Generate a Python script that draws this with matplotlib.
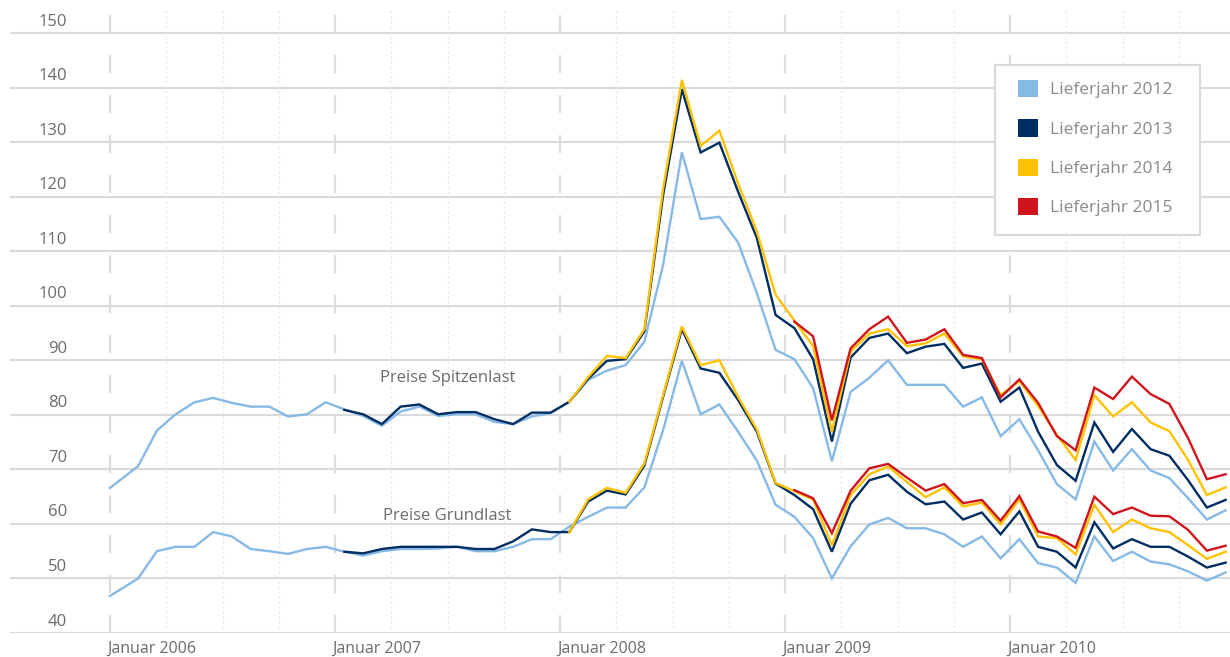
import numpy as np
import matplotlib
matplotlib.use("Agg")
import matplotlib.pyplot as plt
from matplotlib import font_manager
from matplotlib.patches import Patch, Rectangle
from matplotlib.transforms import blended_transform_factory

names = {f.name for f in font_manager.fontManager.ttflist}
NARROW = "Liberation Sans Narrow" if "Liberation Sans Narrow" in names else "Open Sans"
WIDE = "Open Sans"

# ---------------- data ----------------
# month positions (months after Jan 2006); first value at start of Jan 2006, then mid-month
months = [0.0] + [k + 0.5 for k in range(1, 60)]

year_ticks = [0, 12, 24, 36, 48]
year_labels = ["Januar 2006", "Januar 2007", "Januar 2008", "Januar 2009", "Januar 2010"]
y_ticks = [40, 50, 60, 70, 80, 90, 100, 110, 120, 130, 140, 150]

series_names = ["Lieferjahr 2012", "Lieferjahr 2013", "Lieferjahr 2014", "Lieferjahr 2015"]
series_start = [0, 12, 24, 36]  # index of first month for each delivery year

peak_2012 = [66.6, 70.6, 77.1, 80.1, 82.3, 83.1, 82.2, 81.5, 81.5, 79.7, 80.1, 82.3,
             81.0, 79.8, 78.0, 80.6, 81.5, 79.8, 80.1, 80.1, 78.7, 78.3, 79.7, 80.3,
             82.4, 86.4, 88.1, 89.1, 93.4, 107.5, 128.1, 115.9, 116.3, 111.6, 102.3, 91.9,
             90.2, 84.9, 71.5, 84.2, 86.8, 90.0, 85.5, 85.5, 85.5, 81.5, 83.2, 76.1,
             79.2, 73.5, 67.3, 64.5, 75.1, 69.8, 73.7, 69.8, 68.4, 64.7, 60.8, 62.5]
peak_2013 = [80.9, 80.1, 78.3, 81.5, 81.9, 80.1, 80.5, 80.5, 79.2, 78.3, 80.4, 80.4,
             82.4, 86.6, 89.9, 90.2, 95.3, 120.3, 139.7, 128.1, 129.9, 120.9, 112.4, 98.3,
             95.9, 90.2, 75.1, 90.5, 94.1, 94.9, 91.3, 92.5, 93.0, 88.6, 89.4, 82.4,
             85.0, 76.9, 70.8, 67.9, 78.6, 73.2, 77.4, 73.7, 72.5, 68.0, 63.0, 64.4]
peak_2014 = [82.4, 86.9, 90.8, 90.4, 95.7, 121.5, 141.4, 129.3, 132.1, 122.4, 113.6, 102.0,
             97.3, 92.6, 76.9, 91.6, 94.9, 95.7, 92.6, 93.1, 94.9, 90.7, 90.2, 83.6,
             86.2, 81.6, 76.3, 71.7, 83.6, 79.7, 82.3, 78.6, 77.0, 71.7, 65.3, 66.7]
peak_2015 = [97.1, 94.4, 79.0, 92.2, 95.7, 98.0, 93.2, 93.8, 95.7, 91.0, 90.4, 83.2,
             86.5, 82.2, 76.1, 73.5, 85.0, 82.9, 87.0, 83.8, 82.0, 75.7, 68.2, 69.1]

base_2012 = [46.8, 50.0, 55.0, 55.8, 55.8, 58.5, 57.7, 55.4, 55.0, 54.5, 55.4, 55.8,
             54.9, 54.2, 55.0, 55.4, 55.4, 55.5, 55.8, 55.0, 55.0, 55.8, 57.2, 57.2,
             59.5, 61.3, 63.0, 63.0, 66.7, 77.2, 89.9, 80.1, 81.9, 76.9, 71.6, 63.5,
             61.3, 57.4, 50.0, 55.9, 59.9, 61.1, 59.2, 59.2, 58.1, 55.8, 57.7, 53.7,
             57.2, 52.8, 52.0, 49.2, 57.7, 53.2, 54.9, 53.1, 52.6, 51.3, 49.6, 51.1]
base_2013 = [54.9, 54.6, 55.4, 55.8, 55.8, 55.8, 55.8, 55.4, 55.4, 56.8, 59.0, 58.5,
             58.5, 64.1, 66.1, 65.4, 70.7, 83.3, 95.7, 88.5, 87.7, 82.7, 76.9, 67.4,
             65.3, 62.7, 54.9, 63.7, 68.0, 69.0, 65.9, 63.6, 64.1, 60.8, 62.1, 58.1,
             62.3, 55.8, 54.9, 52.0, 60.3, 55.5, 57.2, 55.8, 55.8, 54.0, 52.0, 52.9]
base_2014 = [58.5, 64.5, 66.6, 65.7, 71.1, 83.6, 96.2, 89.1, 90.0, 83.3, 77.3, 67.5,
             66.0, 64.5, 56.1, 65.3, 69.1, 70.5, 67.7, 64.9, 66.7, 63.2, 63.9, 59.9,
             64.5, 57.7, 57.4, 54.4, 63.5, 58.5, 60.8, 59.2, 58.5, 56.1, 53.6, 54.9]
base_2015 = [66.2, 64.7, 58.3, 66.1, 70.2, 71.0, 68.5, 66.1, 67.3, 63.8, 64.4, 60.6,
             65.1, 58.6, 57.7, 55.6, 65.0, 61.8, 63.0, 61.5, 61.4, 58.9, 55.1, 56.0]

peak_series = [peak_2012, peak_2013, peak_2014, peak_2015]
base_series = [base_2012, base_2013, base_2014, base_2015]
colors = ["#86b9e6", "#002d62", "#ffc200", "#cf151b"]

# ---------------- figure ----------------
W, H = 1230, 657
fig = plt.figure(figsize=(W / 100, H / 100), dpi=100)
ax = fig.add_axes([10 / W, (H - 633) / H, 1220 / W, (633 - 11.2) / H])
x0_px, px_per_month = 110, 18.75
ax.set_xlim(-100 / px_per_month, (1230 - x0_px) / px_per_month)
ax.set_ylim(40, 154)

for s in ax.spines.values():
    s.set_visible(False)

# horizontal grid
for yv in y_ticks:
    ax.axhline(yv, color="#dadada", lw=1.5, zorder=1)
# yearly dashed lines
for xv in year_ticks:
    ax.axvline(xv, color="#dcdcdc", lw=1.6, ls=(0, (8, 10)), zorder=1)
# quarterly dotted lines
for q in range(3, 60, 3):
    if q % 12 != 0:
        ax.axvline(q, color="#e2e2e2", lw=0.9, ls=(0, (1.5, 2.5)), zorder=1)

# lines
for vals, start, c in zip(peak_series, series_start, colors):
    ax.plot(months[start:start + len(vals)], vals, color=c, lw=1.7, zorder=3,
            solid_joinstyle="miter")
for vals, start, c in zip(base_series, series_start, colors):
    ax.plot(months[start:start + len(vals)], vals, color=c, lw=1.7, zorder=3,
            solid_joinstyle="miter")

# y tick labels (above gridlines)
trans_y = blended_transform_factory(fig.transFigure, ax.transData)
for yv in y_ticks:
    ax.text(67 / W, yv + 2.1, str(yv), transform=trans_y, ha="right", va="center",
            fontsize=12, color="#6b6b6b", family=NARROW)
ax.set_yticks([])

# x tick labels
ax.set_xticks(year_ticks)
ax.set_xticklabels(year_labels, family=NARROW, fontsize=11.5, color="#6b6b6b")
for lbl in ax.get_xticklabels():
    lbl.set_horizontalalignment("left")
ax.tick_params(axis="x", length=0, pad=6)
trans_off = matplotlib.transforms.ScaledTranslation(-3 / 100, 0, fig.dpi_scale_trans)
for lbl in ax.get_xticklabels():
    lbl.set_transform(lbl.get_transform() + trans_off)

# annotations
ax.text(18.0, 86.7, "Preise Spitzenlast", ha="center", va="center",
        fontsize=12, color="#6b6b6b", family=NARROW)
ax.text(18.0, 61.4, "Preise Grundlast", ha="center", va="center",
        fontsize=12, color="#6b6b6b", family=NARROW)

# legend frame
frame = Rectangle((995 / W, (H - 235) / H), 205 / W, 170 / H,
                  transform=fig.transFigure, facecolor="white",
                  edgecolor="#d9d9d9", lw=1.5, zorder=4, clip_on=False)
ax.add_patch(frame)
# legend
handles = [Patch(facecolor=c, edgecolor="none") for c in colors]
leg = ax.legend(handles, series_names, loc="upper left",
                bbox_to_anchor=(1018 / W, (H - 80) / H), bbox_transform=fig.transFigure,
                frameon=False, handlelength=1.15, handleheight=1.15,
                handletextpad=0.72, labelspacing=1.2, borderpad=0, borderaxespad=0,
                prop={"family": WIDE, "size": 12.5})
for t in leg.get_texts():
    t.set_color("#8a8a8a")
leg.set_zorder(6)

fig.savefig("out.png", dpi=100)
